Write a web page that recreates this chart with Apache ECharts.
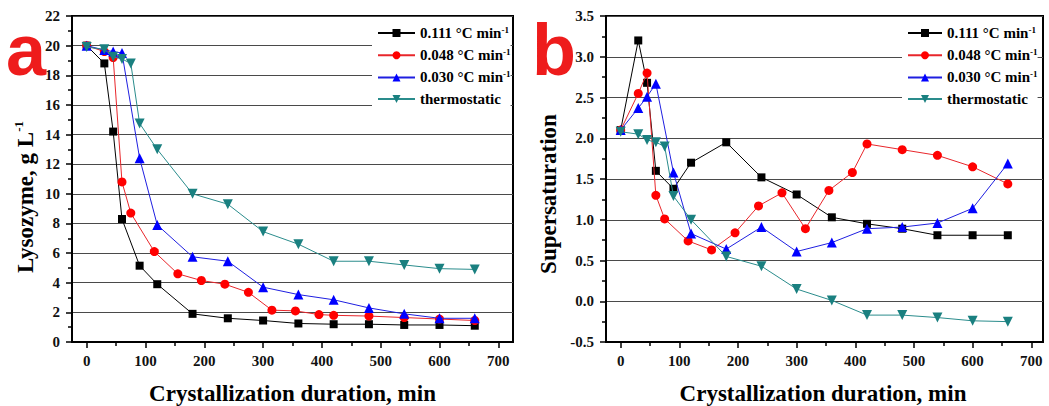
<!DOCTYPE html>
<html><head><meta charset="utf-8">
<script src="https://cdn.jsdelivr.net/npm/echarts@6/dist/echarts.min.js"></script>
<style>html,body{margin:0;padding:0;background:#fff}#c{width:1049px;height:406px}</style>
</head><body><div id="c"></div>
<script>
// ---- data ----
const seriesNames = ['0.111 °C min-1', '0.048 °C min-1', '0.030 °C min-1', 'thermostatic'];
const xTickValues = [0, 100, 200, 300, 400, 500, 600, 700];
const xMinorTickValues = [50, 150, 250, 350, 450, 550, 650];

const xFast = [0, 30, 45, 60, 90, 120, 180, 240, 300, 360, 420, 480, 540, 600, 660];
const xMid = [0, 30, 45, 60, 75, 115, 155, 195, 235, 275, 315, 355, 395, 420, 480, 540, 600, 660];
const xSlow = [0, 30, 45, 60, 90, 120, 180, 240, 300, 360, 420, 480, 540, 600, 660];
const xThermo = [0, 30, 45, 60, 75, 90, 120, 180, 240, 300, 360, 420, 480, 540, 600, 660];

// panel a: lysozyme concentration, g/L
const lysoFast = [20, 18.8, 14.2, 8.3, 5.15, 3.9, 1.9, 1.6, 1.45, 1.25, 1.2, 1.2, 1.15, 1.15, 1.1];
const lysoMid = [20, 19.6, 19.2, 10.8, 8.7, 6.1, 4.6, 4.15, 3.9, 3.35, 2.15, 2.1, 1.85, 1.8, 1.75, 1.65, 1.55, 1.45];
const lysoSlow = [20, 19.7, 19.6, 19.5, 12.4, 7.9, 5.75, 5.45, 3.7, 3.2, 2.85, 2.3, 1.9, 1.6, 1.6];
const lysoThermo = [19.9, 19.75, 19.25, 19.1, 18.8, 14.75, 13.0, 10.0, 9.3, 7.45, 6.6, 5.45, 5.45, 5.2, 4.95, 4.9];

// panel b: supersaturation
const supFast = [2.1, 3.2, 2.68, 1.6, 1.38, 1.7, 1.95, 1.52, 1.31, 1.03, 0.95, 0.89, 0.81, 0.81, 0.81];
const supMid = [2.1, 2.55, 2.8, 1.3, 1.01, 0.74, 0.63, 0.84, 1.17, 1.33, 0.89, 1.36, 1.58, 1.93, 1.86, 1.79, 1.65, 1.44];
const supSlow = [2.1, 2.37, 2.51, 2.67, 1.58, 0.83, 0.64, 0.91, 0.61, 0.72, 0.89, 0.91, 0.96, 1.14, 1.69];
const supThermo = [2.08, 2.05, 1.98, 1.95, 1.9, 1.29, 1.0, 0.55, 0.43, 0.15, 0.01, -0.17, -0.17, -0.2, -0.24, -0.25];

// ---- styling ----
const SERIF = '"Liberation Serif", "Times New Roman", serif';
const colors = ['#000000', '#ff0000', '#0000ff', '#1a8080'];
const lineColors = ['#000000', '#e8262b', '#1f1fe0', '#2a8c8c'];
const symbols = ['rect', 'circle', 'triangle', 'path://M0,0L10,0L5,8.66Z'];
const symbolSizes = [8, 9, 10, 10];

function zip(xs, ys) { return xs.map((x, i) => [x, ys[i]]); }

function makeSeries(xIdx, yIdx, datasets) {
  return datasets.map((d, i) => ({
    name: seriesNames[i],
    type: 'line',
    xAxisIndex: xIdx, yAxisIndex: yIdx,
    data: zip(d[0], d[1]),
    symbol: symbols[i], symbolSize: symbolSizes[i],
    showAllSymbol: true,
    lineStyle: { color: lineColors[i], width: 1 },
    itemStyle: { color: colors[i] },
    emphasis: { disabled: true },
    animation: false,
    z: 3 + i
  }));
}

function mainX(gridIndex, max) {
  return {
    type: 'value', gridIndex, min: -25, max,
    axisLine: { show: true, onZero: false, lineStyle: { color: '#000', width: 2 } },
    axisTick: { show: true, inside: false, length: 6, customValues: xTickValues, lineStyle: { color: '#000', width: 1.5 } },
    axisLabel: { show: true, customValues: xTickValues, margin: 11, fontFamily: SERIF, fontWeight: 'bold', fontSize: 15, color: '#111' },
    splitLine: { show: false }
  };
}
function minorX(gridIndex, max) {
  return {
    type: 'value', gridIndex, min: -25, max, position: 'bottom',
    axisLine: { show: false, onZero: false },
    axisTick: { show: true, inside: false, length: 4, customValues: xMinorTickValues, lineStyle: { color: '#000', width: 1.5 } },
    axisLabel: { show: false },
    splitLine: { show: false }
  };
}
function mainY(gridIndex, min, max, interval, fmt) {
  return {
    type: 'value', gridIndex, min, max, interval,
    axisLine: { show: true, onZero: false, lineStyle: { color: '#000', width: 2 } },
    axisTick: { show: true, inside: false, length: 6, lineStyle: { color: '#000', width: 1.5 } },
    minorTick: { show: true, splitNumber: 2, length: 4, lineStyle: { color: '#000', width: 1.5 } },
    axisLabel: { margin: 12, fontFamily: SERIF, fontWeight: 'bold', fontSize: 15, color: '#111', formatter: fmt },
    splitLine: { show: true, lineStyle: { color: '#4a4a4a', width: 1 } }
  };
}

function legendFmt(name) {
  if (name.endsWith('-1')) return '{t|' + name.slice(0, -2) + '}{s|-1}';
  return '{t|' + name + '}';
}
function makeLegend(left, itemWidth) {
  return {
    orient: 'vertical', left, top: 20,
    data: seriesNames.slice(),
    itemWidth, itemHeight: 10, itemGap: 6.7,
    padding: [5, 0, 5, 5],
    backgroundColor: '#ffffff',
    selectedMode: false,
    formatter: legendFmt,
    textStyle: {
      fontFamily: SERIF, fontWeight: 'bold', fontSize: 15, color: '#000',
      rich: {
        t: { fontFamily: SERIF, fontWeight: 'bold', fontSize: 15, lineHeight: 16, color: '#000' },
        s: { fontFamily: SERIF, fontWeight: 'bold', fontSize: 9, lineHeight: 9, verticalAlign: 'top', color: '#000' }
      }
    }
  };
}

function titleText(x, y, rot, main, sup) {
  const rich = {
    a: { fontFamily: SERIF, fontWeight: 'bold', fontSize: 23, lineHeight: 26, fill: '#000' },
    b: { fontFamily: SERIF, fontWeight: 'bold', fontSize: 13, lineHeight: 12, verticalAlign: 'top', fill: '#000' }
  };
  return {
    type: 'text', x, y, rotation: rot, z: 10,
    style: {
      text: '{a|' + main + '}' + (sup ? '{b|' + sup + '}' : ''),
      rich, align: 'center', verticalAlign: 'middle',
      fontFamily: SERIF, fontWeight: 'bold', fontSize: 23, fill: '#000'
    }
  };
}

const chart = echarts.init(document.getElementById('c'), null, { renderer: 'svg' });
chart.setOption({
  animation: false,
  backgroundColor: '#ffffff',
  grid: [
    { left: 72, top: 16, width: 441, height: 326, show: true, borderColor: '#000', borderWidth: 2, containLabel: false },
    { left: 606, top: 16, width: 437, height: 326, show: true, borderColor: '#000', borderWidth: 2, containLabel: false }
  ],
  xAxis: [mainX(0, 725), minorX(0, 725), mainX(1, 720), minorX(1, 720)],
  yAxis: [
    mainY(0, 0, 22, 2, v => String(v)),
    mainY(1, -0.5, 3.5, 0.5, v => v.toFixed(1))
  ],
  legend: [makeLegend(372, 37), makeLegend(902, 34)],
  series: [
    ...makeSeries(0, 0, [[xFast, lysoFast], [xMid, lysoMid], [xSlow, lysoSlow], [xThermo, lysoThermo]]),
    ...makeSeries(2, 1, [[xFast, supFast], [xMid, supMid], [xSlow, supSlow], [xThermo, supThermo]])
  ],
  graphic: [
    { type: 'text', x: 6, y: 50, z: 10, style: { text: 'a', fontFamily: '"Liberation Sans", Arial, sans-serif', fontWeight: 'bold', fontSize: 72, fill: '#ee1c1c', align: 'left', verticalAlign: 'middle' } },
    { type: 'text', x: 532, y: 50, z: 10, style: { text: 'b', fontFamily: '"Liberation Sans", Arial, sans-serif', fontWeight: 'bold', fontSize: 72, fill: '#ee1c1c', align: 'left', verticalAlign: 'middle' } },
    titleText(25, 197, Math.PI / 2, 'Lysozyme, g L', '-1'),
    titleText(548, 194, Math.PI / 2, 'Supersaturation', ''),
    titleText(292.5, 393, 0, 'Crystallization duration, min', ''),
    titleText(823, 393, 0, 'Crystallization duration, min', '')
  ]
});
</script>
</body></html>
